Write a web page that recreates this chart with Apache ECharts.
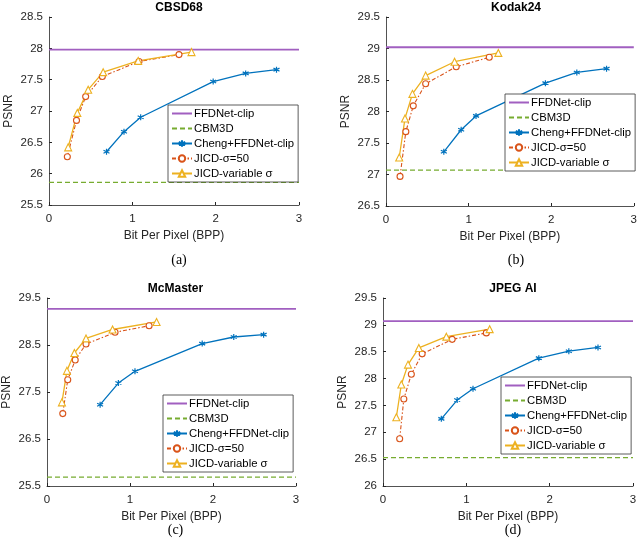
<!DOCTYPE html>
<html>
<head>
<meta charset="utf-8">
<script src="https://cdn.jsdelivr.net/npm/echarts@6/dist/echarts.min.js"></script>
<style>
  html, body { margin: 0; padding: 0; background: #fff; }
  #main { width: 640px; height: 547px; }
</style>
</head>
<body>
<div id="main"></div>
<script>
// panel titles and captions
var panelTitles = ['CBSD68', 'Kodak24', 'McMaster', 'JPEG AI'];
var captions = ['(a)', '(b)', '(c)', '(d)'];
var seriesNames = ['FFDNet-clip', 'CBM3D', 'Cheng+FFDNet-clip', 'JICD-σ=50', 'JICD-variable σ'];

// y axis ranges per panel
var yMin = [25.5, 26.5, 25.5, 26];
var yMax = [28.5, 29.5, 29.5, 29.5];
var yStep = [0.5, 0.5, 1, 0.5];

// flat reference lines (PSNR)
var ffdnetPsnr = [27.98, 29.02, 29.27, 29.07];
var cbm3dPsnr = [25.86, 27.07, 25.69, 26.53];
var refBpp = [0, 3];

// Cheng+FFDNet-clip
var chengBpp = [
  [0.69, 0.90, 1.10, 1.97, 2.36, 2.73],
  [0.70, 0.91, 1.09, 1.93, 2.31, 2.67],
  [0.64, 0.86, 1.06, 1.87, 2.25, 2.61],
  [0.70, 0.89, 1.08, 1.87, 2.23, 2.58]
];
var chengPsnr = [
  [26.35, 26.67, 26.90, 27.47, 27.60, 27.66],
  [27.36, 27.71, 27.93, 28.45, 28.62, 28.68],
  [27.23, 27.69, 27.94, 28.53, 28.67, 28.72],
  [27.25, 27.60, 27.81, 28.38, 28.51, 28.58]
];

// JICD-sigma=50
var jicd50Bpp = [
  [0.22, 0.33, 0.44, 0.64, 1.08, 1.56],
  [0.17, 0.24, 0.33, 0.48, 0.85, 1.25],
  [0.19, 0.25, 0.34, 0.47, 0.82, 1.23],
  [0.20, 0.25, 0.34, 0.47, 0.83, 1.24]
];
var jicd50Psnr = [
  [26.27, 26.85, 27.23, 27.55, 27.79, 27.90],
  [26.97, 27.68, 28.09, 28.44, 28.71, 28.86],
  [27.04, 27.76, 28.18, 28.52, 28.77, 28.91],
  [26.88, 27.62, 28.08, 28.46, 28.73, 28.85]
];

// JICD-variable sigma
var jicdVarBpp = [
  [0.23, 0.34, 0.47, 0.65, 1.07, 1.71],
  [0.16, 0.23, 0.32, 0.48, 0.83, 1.36],
  [0.18, 0.24, 0.33, 0.47, 0.79, 1.32],
  [0.16, 0.22, 0.30, 0.43, 0.76, 1.28]
];
var jicdVarPsnr = [
  [26.42, 26.97, 27.34, 27.62, 27.80, 27.94],
  [27.27, 27.89, 28.28, 28.57, 28.79, 28.93],
  [27.28, 27.95, 28.33, 28.64, 28.83, 28.99],
  [27.28, 27.89, 28.26, 28.57, 28.78, 28.92]
];

var grids = [
  {left: 49, top: 17, width: 250, height: 188},
  {left: 386, top: 17, width: 250, height: 189},
  {left: 45, top: 298, width: 251, height: 188},
  {left: 383, top: 298, width: 250, height: 188}
];
var captionTop = [248, 248, 518, 518];
var legendPos = [
  {left: 168, top: 105},
  {left: 505, top: 94},
  {left: 163, top: 395},
  {left: 501, top: 377}
];

var colors = {
  ffd: '#a15fc0',
  cbm: '#77ac30',
  cheng: '#0072bd',
  j50: '#d95319',
  jvar: '#edb120'
};
var asterisk = 'path://M0,-10L0,10M-8.66,-5L8.66,5M-8.66,5L8.66,-5';
var font = 'Liberation Sans, Arial, sans-serif';

function zip(xs, ys) {
  return xs.map(function (x, i) { return [x, ys[i]]; });
}

// legend entries: the two flat lines have no marker
var legendData = seriesNames.map(function (n, i) {
  return i < 2 ? {name: n, itemStyle: {opacity: 0}} : {name: n};
});

var option = {
  backgroundColor: '#fff',
  animation: false,
  title: [],
  grid: [],
  xAxis: [],
  yAxis: [],
  legend: [],
  series: []
};

for (var p = 0; p < 4; p++) {
  var g = grids[p];
  option.grid.push(g);
  option.title.push({
    text: panelTitles[p],
    left: g.left + g.width / 2,
    top: g.top - 20,
    textAlign: 'center',
    textStyle: {fontFamily: font, fontSize: 12, fontWeight: 'bold', color: '#000'}
  });
  option.title.push({
    text: captions[p],
    left: g.left + g.width / 2,
    top: captionTop[p],
    textAlign: 'center',
    textStyle: {fontFamily: 'Liberation Serif, Times New Roman, serif', fontSize: 14, fontWeight: 'normal', color: '#000'}
  });
  option.xAxis.push({
    type: 'value', gridIndex: p, min: 0, max: 3, interval: 1,
    name: 'Bit Per Pixel (BPP)', nameLocation: 'middle', nameGap: 25,
    nameTextStyle: {fontFamily: font, fontSize: 12, color: '#262626'},
    axisLine: {show: true, lineStyle: {color: '#262626', width: 0.8}},
    axisTick: {show: true, inside: true, length: 3, lineStyle: {color: '#262626'}},
    axisLabel: {fontFamily: font, fontSize: 11.5, color: '#262626', margin: 8},
    splitLine: {show: false}
  });
  option.yAxis.push({
    type: 'value', gridIndex: p, min: yMin[p], max: yMax[p], interval: yStep[p],
    name: 'PSNR', nameLocation: 'middle', nameGap: 34, nameRotate: 90,
    nameTextStyle: {fontFamily: font, fontSize: 12, color: '#262626'},
    axisLine: {show: true, lineStyle: {color: '#262626', width: 0.8}},
    axisTick: {show: true, inside: true, length: 3, lineStyle: {color: '#262626'}},
    axisLabel: {fontFamily: font, fontSize: 11.5, color: '#262626', margin: 6},
    splitLine: {show: false}
  });
  option.legend.push({
    data: legendData,
    orient: 'vertical',
    left: legendPos[p].left, top: legendPos[p].top,
    backgroundColor: '#fff',
    borderColor: '#333', borderWidth: 0.8, borderRadius: 0,
    padding: [3, 4, 3, 3],
    itemGap: 4, itemWidth: 20, itemHeight: 8,
    selectedMode: false,
    textStyle: {fontFamily: font, fontSize: 11.3, color: '#000', padding: [0, 0, 0, -3]}
  });

  var base = {type: 'line', xAxisIndex: p, yAxisIndex: p, z: 2};
  option.series.push(Object.assign({}, base, {
    name: seriesNames[0],
    data: zip(refBpp, [ffdnetPsnr[p], ffdnetPsnr[p]]),
    showSymbol: false, symbol: 'none',
    lineStyle: {color: colors.ffd, width: 1.8},
    itemStyle: {color: colors.ffd}
  }));
  option.series.push(Object.assign({}, base, {
    name: seriesNames[1],
    data: zip(refBpp, [cbm3dPsnr[p], cbm3dPsnr[p]]),
    showSymbol: false, symbol: 'none',
    lineStyle: {color: colors.cbm, width: 1.3, type: [5, 3]},
    itemStyle: {color: colors.cbm}
  }));
  option.series.push(Object.assign({}, base, {
    name: seriesNames[2],
    data: zip(chengBpp[p], chengPsnr[p]),
    symbol: asterisk, symbolSize: 6,
    lineStyle: {color: colors.cheng, width: 1.3},
    itemStyle: {color: colors.cheng, borderColor: colors.cheng, borderWidth: 1.2}
  }));
  option.series.push(Object.assign({}, base, {
    name: seriesNames[3],
    data: zip(jicd50Bpp[p], jicd50Psnr[p]),
    symbol: 'circle', symbolSize: 6,
    lineStyle: {color: colors.j50, width: 1.1, type: [4, 2, 1.5, 2]},
    itemStyle: {color: '#fff', borderColor: colors.j50, borderWidth: 1.1}
  }));
  option.series.push(Object.assign({}, base, {
    name: seriesNames[4],
    data: zip(jicdVarBpp[p], jicdVarPsnr[p]),
    symbol: 'triangle', symbolSize: 7,
    lineStyle: {color: colors.jvar, width: 1.3},
    itemStyle: {color: '#fff', borderColor: colors.jvar, borderWidth: 1.1}
  }));
}

var myChart = echarts.init(document.getElementById('main'));
myChart.setOption(option);
</script>
</body>
</html>
